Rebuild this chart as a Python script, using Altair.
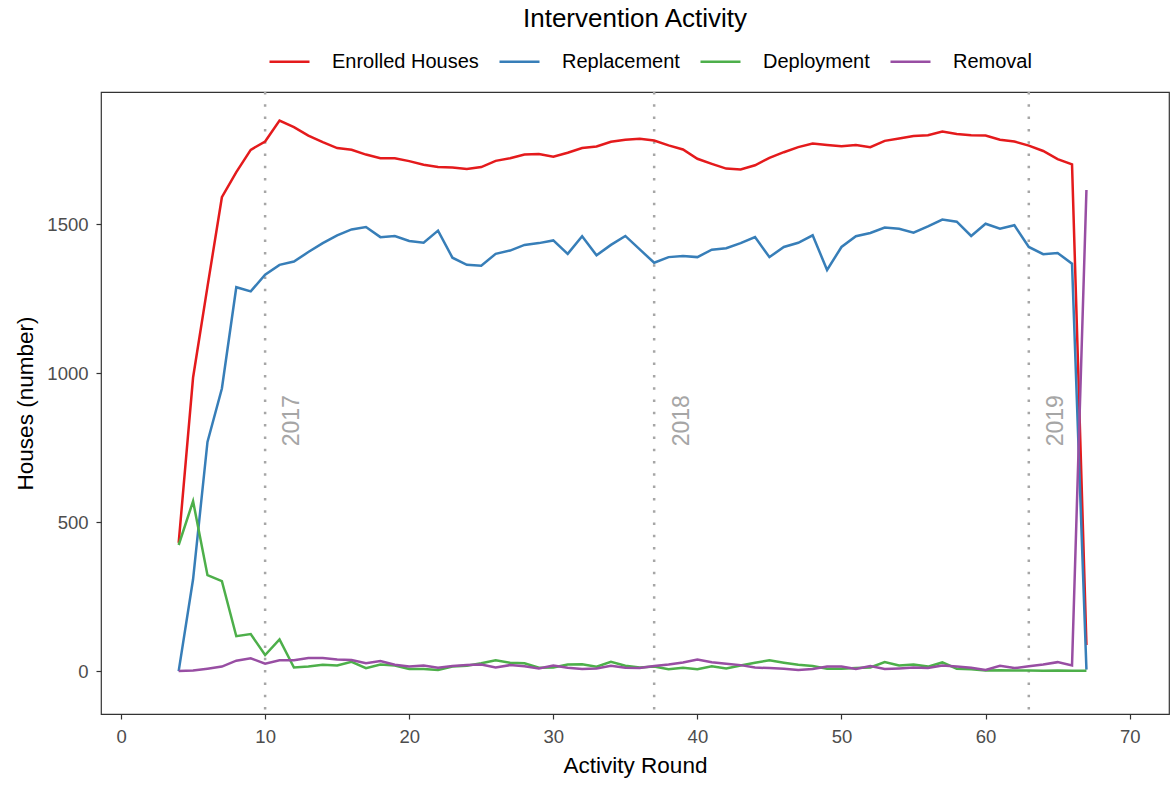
import altair as alt
import pandas as pd

# Activity rounds 4..67 and houses per series
rounds = list(range(4, 68))

enrolled = [430, 985, 1290, 1590, 1674, 1749, 1777, 1847, 1825, 1797, 1775, 1755,
            1749, 1733, 1721, 1721, 1711, 1699, 1691, 1690, 1685, 1691, 1712, 1721,
            1733, 1735, 1726, 1739, 1755, 1760, 1776, 1783, 1786, 1780, 1764, 1750,
            1719, 1702, 1686, 1683, 1697, 1722, 1741, 1758, 1770, 1765, 1761, 1765,
            1758, 1779, 1787, 1795, 1798, 1810, 1802, 1798, 1797, 1783, 1777, 1763,
            1745, 1718, 1700, 87]

replacement = [0, 308, 769, 948, 1288, 1274, 1330, 1363, 1374, 1406, 1436, 1462,
               1482, 1490, 1456, 1460, 1443, 1437, 1478, 1387, 1363, 1360, 1400, 1411,
               1430, 1436, 1445, 1400, 1459, 1395, 1430, 1460, 1415, 1370, 1389, 1393,
               1389, 1414, 1419, 1436, 1456, 1389, 1423, 1437, 1462, 1346, 1423, 1459,
               1470, 1488, 1484, 1471, 1492, 1515, 1508, 1460, 1501, 1484, 1496, 1423,
               1399, 1403, 1367, 5]

deployment = [423, 570, 322, 302, 117, 124, 54, 106, 12, 15, 21, 19,
              31, 10, 22, 19, 7, 7, 4, 15, 18, 26, 36, 28,
              26, 11, 12, 22, 23, 15, 31, 18, 12, 15, 6, 11,
              6, 16, 9, 19, 28, 36, 28, 21, 17, 8, 8, 10,
              12, 30, 19, 22, 15, 29, 8, 6, 2, 3, 2, 2,
              1, 2, 1, 1]

removal = [0, 2, 8, 15, 35, 43, 25, 36, 36, 44, 44, 39,
           37, 26, 34, 21, 15, 19, 11, 17, 20, 22, 12, 20,
           16, 9, 19, 11, 7, 9, 18, 11, 10, 17, 22, 29,
           39, 30, 25, 20, 12, 10, 8, 4, 7, 15, 15, 7,
           17, 7, 9, 12, 10, 19, 15, 11, 4, 18, 10, 16,
           22, 30, 19, 1614]

series_names = ["Enrolled Houses", "Replacement", "Deployment", "Removal"]
series_colors = ["#E41A1C", "#377EB8", "#4DAF4A", "#984EA3"]

# Year boundaries (activity round where each year starts)
year_rounds = [10, 37, 63]
year_labels = ["2017", "2018", "2019"]
year_label_y = 840

FONT = "Liberation Sans"

rows = []
for name, vals in zip(series_names, [enrolled, replacement, deployment, removal]):
    for r, v in zip(rounds, vals):
        rows.append({"round": r, "houses": v, "series": name})
df = pd.DataFrame(rows)

years = pd.DataFrame({"round": year_rounds, "label": year_labels, "yv": [year_label_y] * 3})

x_scale = alt.Scale(domain=[-1.39, 72.73], nice=False, zero=False)
y_scale = alt.Scale(domain=[-144, 1943], nice=False, zero=False)

x_axis = alt.Axis(values=[0, 10, 20, 30, 40, 50, 60, 70], title="Activity Round",
                  grid=False, domain=False, tickSize=5, tickColor="#333333",
                  tickWidth=1.2, labelPadding=8, labelColor="#4D4D4D",
                  labelFontSize=18.5, labelFont=FONT, titleFont=FONT,
                  titleFontSize=22.5, titleFontWeight="normal", titleColor="#000000",
                  titlePadding=9)
y_axis = alt.Axis(values=[0, 500, 1000, 1500], format="d", title="Houses (number)",
                  grid=False, domain=False, tickSize=5, tickColor="#333333",
                  tickWidth=1.2, labelPadding=8, labelColor="#4D4D4D",
                  labelFontSize=18.5, labelFont=FONT, titleFont=FONT,
                  titleFontSize=22.5, titleFontWeight="normal", titleColor="#000000",
                  titlePadding=9)

vlines = alt.Chart(years).mark_rule(
    color="#A6A6A6", strokeWidth=2.5, strokeDash=[2.5, 9.8]
).encode(x=alt.X("round:Q", scale=x_scale, axis=x_axis))

year_text = alt.Chart(years).transform_calculate(
    xt="datum.round + 1.9"
).mark_text(
    angle=270, fontSize=23, font=FONT, color="#A6A6A6", align="center", baseline="middle"
).encode(
    x=alt.X("xt:Q", scale=x_scale),
    y=alt.Y("yv:Q", scale=y_scale),
    text="label:N",
)

lines = alt.Chart(df).mark_line(strokeWidth=2.5).encode(
    x=alt.X("round:Q", scale=x_scale, axis=x_axis),
    y=alt.Y("houses:Q", scale=y_scale, axis=y_axis),
    color=alt.Color(
        "series:N",
        scale=alt.Scale(domain=series_names, range=series_colors),
        sort=series_names,
        legend=alt.Legend(
            title=None, orient="none", direction="horizontal", columns=4,
            legendX=167, legendY=-52, symbolType="stroke", symbolSize=1600,
            symbolStrokeWidth=2.5, labelOffset=21, columnPadding=15,
            labelFontSize=20, labelFont=FONT, labelColor="#000000",
        ),
    ),
    detail="series:N",
)

chart = alt.layer(vlines, year_text, lines).properties(
    width=1068,
    height=622,
    background="white",
    title=alt.TitleParams("Intervention Activity", anchor="middle", fontSize=26,
                          font=FONT, fontWeight="normal", color="#000000", offset=8),
    autosize=alt.AutoSizeParams(type="none"),
    padding={"left": 101, "top": 92, "right": 2, "bottom": 71},
).configure_view(stroke="#333333", strokeWidth=1.2)

chart.save("out.html", embed_options={"renderer": "svg", "actions": False})
